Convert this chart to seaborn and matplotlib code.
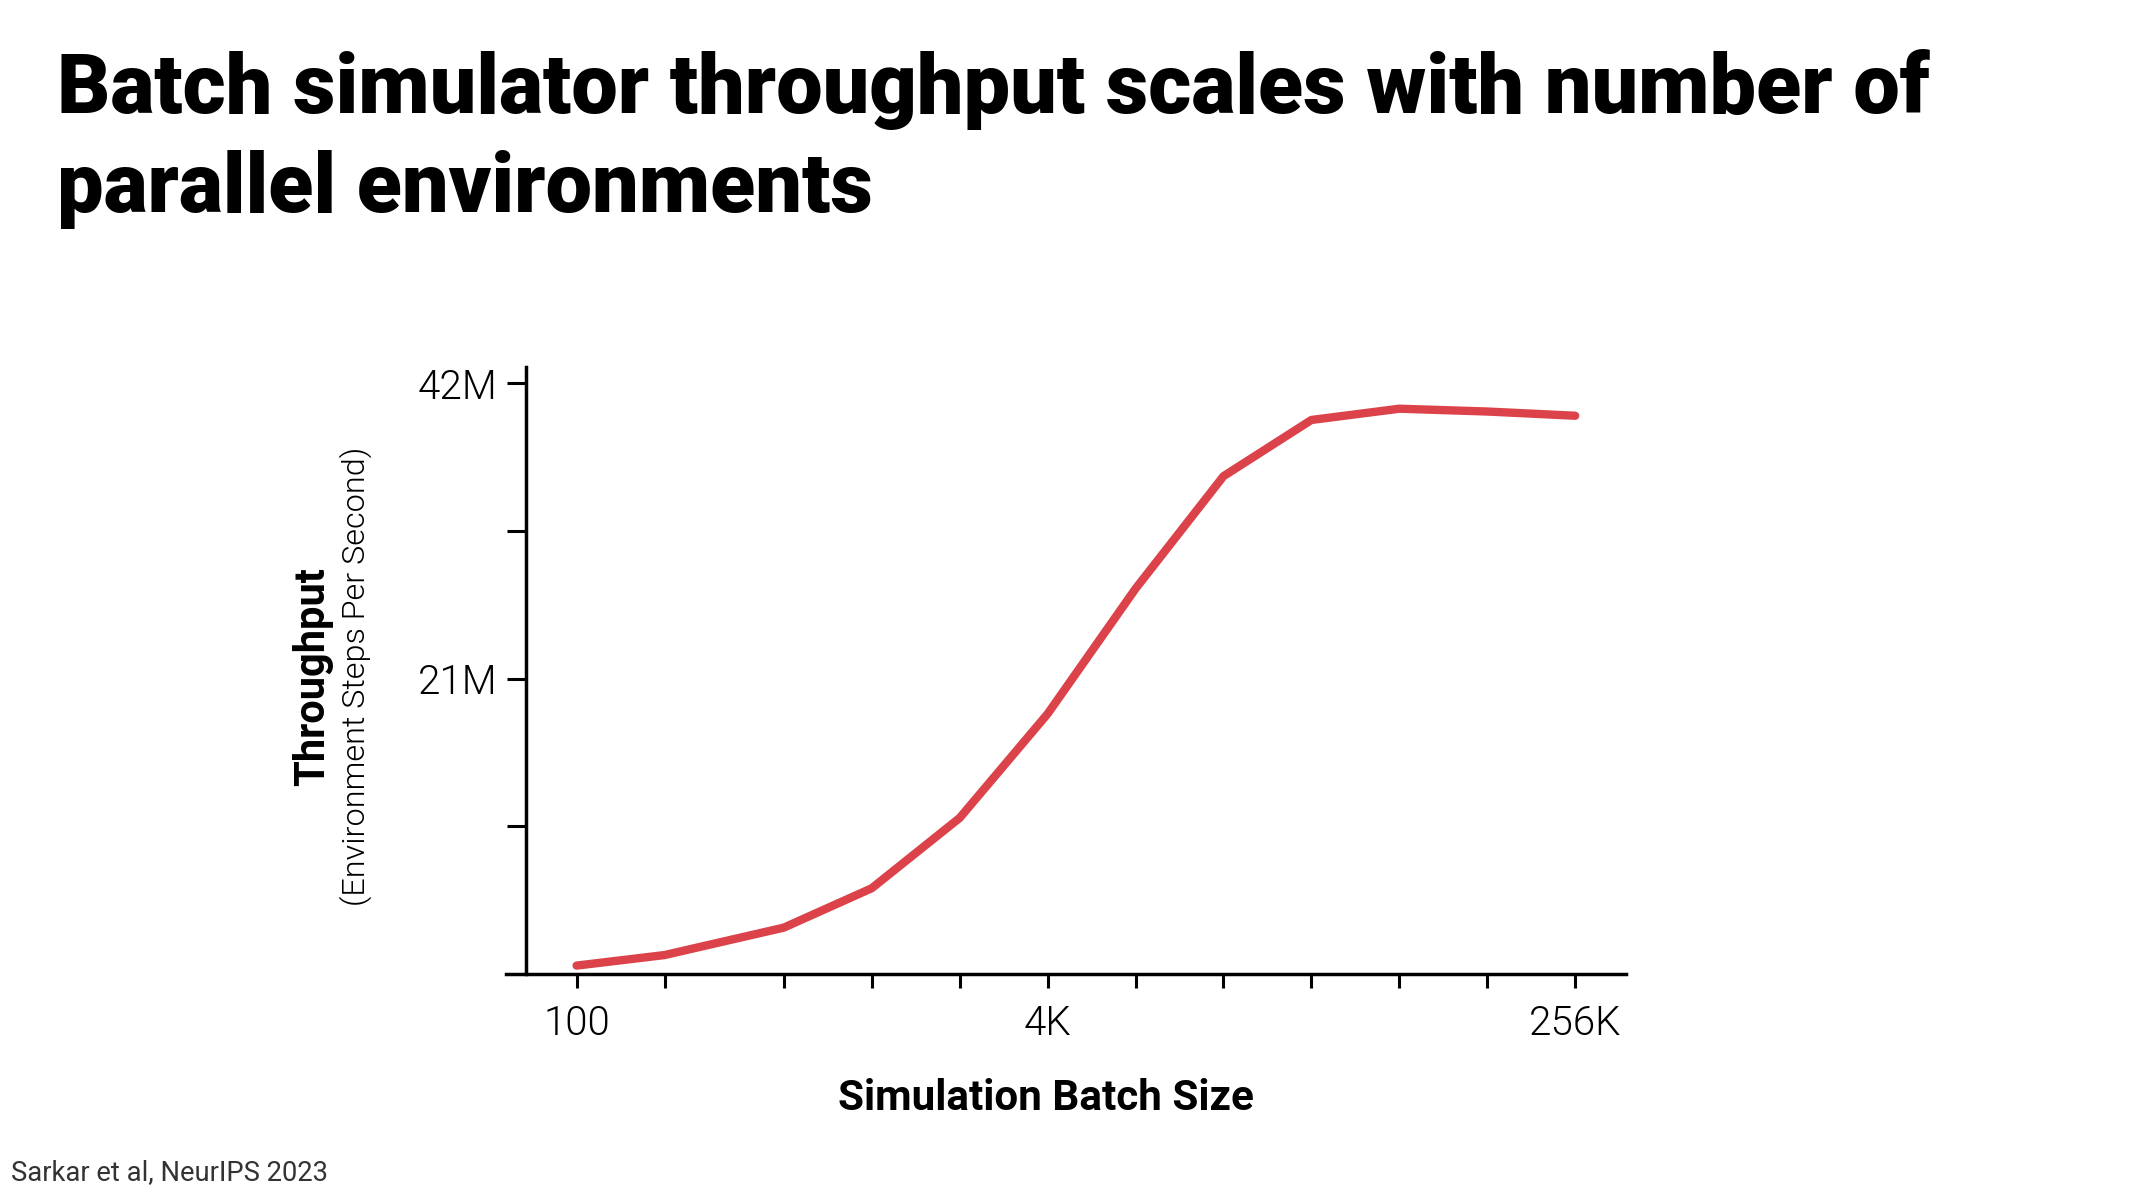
import numpy as np
import pandas as pd
import matplotlib
matplotlib.use("Agg")
import matplotlib.pyplot as plt
import seaborn as sns

# Data
batch_sizes = [100, 200, 512, 1024, 2048, 4096, 8192, 16384, 32768, 65536, 131072, 262144]
throughput_m = [0.6, 1.35, 3.3, 6.1, 11.1, 18.5, 27.4, 35.4, 39.4, 40.2, 40.0, 39.7]
x_tick_labels = ["100", "", "", "", "", "4K", "", "", "", "", "", "256K"]
y_ticks_m = [10.5, 21, 31.5, 42]
y_tick_labels = ["", "21M", "", "42M"]

sns.set_theme(style="ticks")
plt.rcParams['font.family'] = ['Roboto', 'DejaVu Sans']
plt.rcParams['text.color'] = 'black'

df = pd.DataFrame({
    "batch": batch_sizes,
    "throughput": np.array(throughput_m) * 1e6
})

fig = plt.figure(figsize=(21.33, 12), dpi=100)
ax = fig.add_axes([0.2372, 0.1883, 0.5249, 0.5058])

sns.lineplot(data=df, x="batch", y="throughput", ax=ax,
             color="#DB4249", linewidth=6)

ax.set_xscale("log", base=2)
ax.set_xlim(57.3, 389900)
ax.set_ylim(0, 43.16e6)

ax.set_xticks(batch_sizes)
ax.set_xticklabels(x_tick_labels)
ax.set_yticks(np.array(y_ticks_m) * 1e6)
ax.set_yticklabels(y_tick_labels)
ax.minorticks_off()

ax.spines['top'].set_visible(False)
ax.spines['right'].set_visible(False)
ax.spines['left'].set_position(('data', 67.3))
for s in ['left', 'bottom']:
    ax.spines[s].set_linewidth(2.5)
    ax.spines[s].set_color('black')

ax.tick_params(axis='y', length=14, width=2.2, pad=7, labelsize=29, colors='black')
ax.tick_params(axis='x', length=10, width=2.2, pad=12, labelsize=29, colors='black')
for lab in ax.get_xticklabels() + ax.get_yticklabels():
    lab.set_fontweight(300)

ax.set_xlabel("")
ax.set_ylabel("")

# Axis titles
fig.text(0.4904, 0.0842, "Simulation Batch Size", ha='center', va='center',
         fontsize=30.4, fontweight='bold', color='black')
fig.text(0.1467, 0.436, "Throughput", ha='center', va='center', rotation=90,
         fontsize=30, fontweight='bold', color='black')
fig.text(0.167, 0.436, "(Environment Steps Per Second)", ha='center', va='center',
         rotation=90, fontsize=23.3, fontweight=300, color='black')

# Title
fig.text(0.0267, 0.9058, "Batch simulator throughput scales with number of",
         ha='left', va='baseline', fontsize=59.6, fontweight=900, color='black')
fig.text(0.0267, 0.8233, "parallel environments",
         ha='left', va='baseline', fontsize=59.6, fontweight=900, color='black')

# Source
fig.text(0.005, 0.023, "Sarkar et al, NeurIPS 2023", ha='left', va='center',
         fontsize=19.7, color='#333333')

fig.savefig("out.png", dpi=100)
